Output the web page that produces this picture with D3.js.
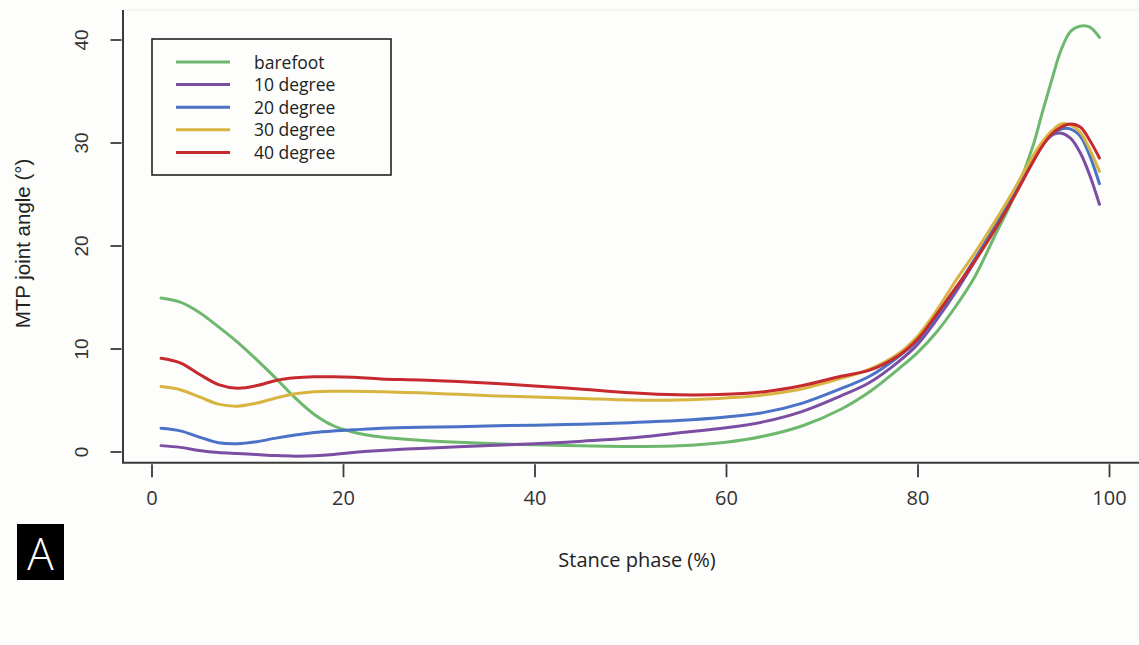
<!DOCTYPE html>
<html>
<head>
<meta charset="utf-8">
<script src="https://cdn.jsdelivr.net/npm/d3@7"></script>
<style>
  html, body { margin: 0; padding: 0; background: #fdfdfb; }
  svg { display: block; }
</style>
</head>
<body>
<svg id="chart" width="1139" height="645"></svg>
<script>
// ---- Data ----
const stance = [1,3,5,7,9,11,13,15,17,19,21,24,28,32,36,40,45,50,55,60,64,68,72,75,78,80,82,84,86,88,90,92,93,94,95,96,97,98,99];

const barefoot = [14.9,14.5,13.5,12.1,10.6,8.9,7.1,5.2,3.6,2.5,1.9,1.4,1.1,0.9,0.75,0.65,0.55,0.48,0.55,0.9,1.5,2.5,4.1,5.8,8.0,9.6,11.6,14.1,17.0,20.8,24.6,29.5,32.8,36.0,39.0,40.8,41.3,41.2,40.2];
const deg10 = [0.57,0.4,0.1,-0.1,-0.2,-0.3,-0.4,-0.45,-0.42,-0.3,-0.1,0.1,0.3,0.45,0.6,0.75,1.0,1.3,1.8,2.3,2.9,3.9,5.4,6.7,8.7,10.4,12.8,15.5,18.5,21.7,25.0,28.4,29.8,30.7,30.9,30.4,29.0,26.8,24.0];
const deg20 = [2.25,2.0,1.4,0.85,0.75,0.95,1.3,1.6,1.85,2.0,2.1,2.25,2.35,2.4,2.5,2.55,2.65,2.8,3.0,3.35,3.8,4.7,6.1,7.3,9.2,10.8,13.1,15.8,18.7,21.8,25.0,28.3,29.7,30.7,31.3,31.3,30.6,28.7,26.0];
const deg30 = [6.3,6.0,5.3,4.6,4.4,4.7,5.2,5.6,5.8,5.85,5.85,5.8,5.7,5.55,5.4,5.3,5.15,5.0,5.0,5.2,5.5,6.1,7.1,8.0,9.5,11.2,13.7,16.6,19.3,22.2,25.3,28.6,30.0,31.1,31.8,31.7,31.0,29.3,27.2];
const deg40 = [9.05,8.6,7.5,6.5,6.15,6.4,6.9,7.15,7.25,7.25,7.2,7.05,6.95,6.8,6.6,6.35,6.05,5.7,5.5,5.55,5.8,6.4,7.3,7.9,9.3,10.9,13.3,15.9,18.5,21.4,24.6,28.0,29.6,30.8,31.5,31.8,31.5,30.2,28.5];

const seriesNames = ["barefoot","10 degree","20 degree","30 degree","40 degree"];
const seriesValues = [barefoot, deg10, deg20, deg30, deg40];
const seriesColors = ["#6db86d","#7b4ea3","#4a72c6","#d8b441","#c62a2f"];

const xTicks = [0,20,40,60,80,100];
const yTicks = [0,10,20,30,40];

const xTitle = "Stance phase (%)";
const yTitle = "MTP joint angle (°)";
const panelLabel = "A";

// ---- Drawing ----
const svg = d3.select("#chart");
const W = 1139, H = 645;
svg.append("rect").attr("width", W).attr("height", H).attr("fill", "#fdfdfb");

const x = d3.scaleLinear().domain([0,100]).range([151.5,1109]);
const y = d3.scaleLinear().domain([0,40]).range([451.5,39.5]);

const axisLeftX = 123, axisBottomY = 462.7, plotTop = 10;

// faint top border
svg.append("line")
  .attr("x1", axisLeftX).attr("x2", W).attr("y1", plotTop).attr("y2", plotTop)
  .attr("stroke", "#ececec").attr("stroke-width", 1);

// axis lines (L-shaped)
svg.append("path")
  .attr("d", `M${axisLeftX},${plotTop}V${axisBottomY}H${W}`)
  .attr("fill", "none").attr("stroke", "#3a3a3a").attr("stroke-width", 2);

// y axis ticks
const gy = svg.append("g")
  .attr("transform", `translate(${axisLeftX - 1.5},0)`)
  .call(d3.axisLeft(y).tickValues(yTicks).tickSize(11).tickSizeOuter(0).tickFormat(d3.format("d")));
gy.select(".domain").remove();
gy.selectAll(".tick line").attr("stroke", "#3a3a3a").attr("stroke-width", 1.8);
gy.selectAll(".tick text")
  .attr("x", 0).attr("y", 0).attr("dy", "0em")
  .attr("transform", "translate(-33.5,0) rotate(-90)")
  .attr("text-anchor", "middle")
  .style("font-family", "'Liberation Sans', Arial, sans-serif")
  .style("font-size", "19px")
  .attr("fill", "#333");

// x axis ticks
const gx = svg.append("g")
  .attr("transform", `translate(0,${axisBottomY + 1.5})`)
  .call(d3.axisBottom(x).tickValues(xTicks).tickSize(13).tickSizeOuter(0).tickPadding(14).tickFormat(d3.format("d")));
gx.select(".domain").remove();
gx.selectAll(".tick line").attr("stroke", "#3a3a3a").attr("stroke-width", 1.8);
gx.selectAll(".tick text")
  .style("font-family", "'Open Sans', 'Liberation Sans', sans-serif")
  .style("font-size", "20px")
  .attr("fill", "#333");

// lines
const line = d3.line()
  .x((d, i) => x(stance[i]))
  .y(d => y(d))
  .curve(d3.curveCatmullRom.alpha(0.5));

svg.append("g").selectAll("path.series")
  .data(seriesValues)
  .join("path")
  .attr("class", "series")
  .attr("d", d => line(d))
  .attr("fill", "none")
  .attr("stroke", (d, i) => seriesColors[i])
  .attr("stroke-width", 3)
  .attr("stroke-linejoin", "round")
  .attr("stroke-linecap", "round");

// legend
const leg = svg.append("g");
leg.append("rect")
  .attr("x", 152).attr("y", 39).attr("width", 239).attr("height", 136)
  .attr("fill", "#fdfdfb").attr("stroke", "#222").attr("stroke-width", 1.6);
const rowY = i => 62 + i * 22.6;
seriesNames.forEach((name, i) => {
  leg.append("line")
    .attr("x1", 176).attr("x2", 230).attr("y1", rowY(i)).attr("y2", rowY(i))
    .attr("stroke", seriesColors[i]).attr("stroke-width", 3);
  leg.append("text")
    .attr("x", 254).attr("y", rowY(i) + 6.5)
    .text(name)
    .style("font-family", "'Open Sans', 'Liberation Sans', sans-serif")
    .style("font-size", "17.5px")
    .attr("fill", "#222");
});

// axis titles
svg.append("text")
  .attr("transform", `translate(29.5,243.5) rotate(-90)`)
  .attr("text-anchor", "middle")
  .text(yTitle)
  .style("font-family", "'Liberation Sans', Arial, sans-serif")
  .style("font-size", "20.5px")
  .attr("fill", "#222");

svg.append("text")
  .attr("x", 637).attr("y", 567)
  .attr("text-anchor", "middle")
  .text(xTitle)
  .style("font-family", "'Open Sans', 'Liberation Sans', sans-serif")
  .style("font-size", "20px")
  .attr("fill", "#222");

// panel label
svg.append("rect")
  .attr("x", 17).attr("y", 524).attr("width", 47).attr("height", 56)
  .attr("fill", "#000");
svg.append("text")
  .attr("x", 40.5).attr("y", 570)
  .attr("text-anchor", "middle")
  .text(panelLabel)
  .style("font-family", "'Open Sans', 'Liberation Sans', sans-serif")
  .style("font-size", "44px")
  .style("font-weight", "300")
  .attr("fill", "#fff");
</script>
</body>
</html>
